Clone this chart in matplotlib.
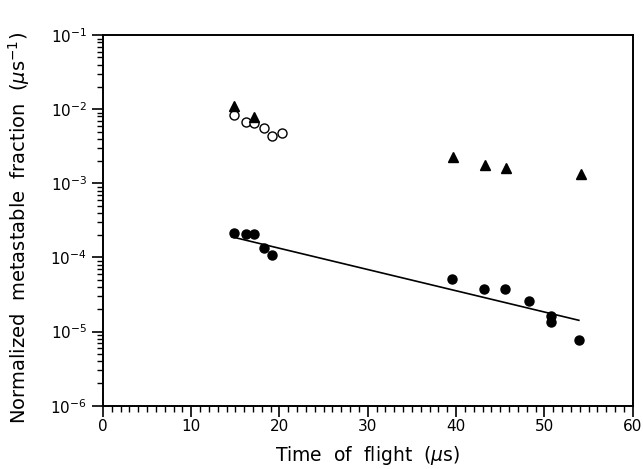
import matplotlib
matplotlib.use("Agg")
import matplotlib.pyplot as plt
from matplotlib.ticker import MultipleLocator, LogLocator

# open circles
open_x = [14.8, 16.2, 17.1, 18.2, 19.1, 20.3]
open_y = [8.4e-3, 6.7e-3, 6.5e-3, 5.6e-3, 4.3e-3, 4.8e-3]

# filled triangles
tri_x = [14.8, 17.1, 39.6, 43.3, 45.6, 54.1]
tri_y = [1.11e-2, 7.8e-3, 2.25e-3, 1.79e-3, 1.63e-3, 1.33e-3]

# filled circles
dot_x = [14.8, 16.2, 17.1, 18.2, 19.1, 39.5, 43.2, 45.5, 48.2, 50.8, 50.8, 53.9]
dot_y = [2.14e-4, 2.1e-4, 2.08e-4, 1.33e-4, 1.07e-4, 5.1e-5, 3.8e-5, 3.7e-5,
         2.6e-5, 1.64e-5, 1.35e-5, 7.8e-6]

# fitted line
fit_x = [14.6, 53.9]
fit_y = [1.9e-4, 1.42e-5]

fig = plt.figure(figsize=(6.43, 4.69), dpi=100)
ax = fig.add_axes([0.160, 0.135, 0.824, 0.790])

ax.plot(fit_x, fit_y, color='black', lw=1.2)
ax.plot(dot_x, dot_y, 'o', color='black', ms=6.5, ls='none')
ax.plot(open_x, open_y, 'o', mfc='white', mec='black', mew=1.0, ms=6.5, ls='none')
ax.plot(tri_x, tri_y, '^', color='black', ms=6.5, ls='none')

ax.set_yscale('log')
ax.set_xlim(0, 60)
ax.set_ylim(1e-6, 1e-1)

ax.xaxis.set_major_locator(MultipleLocator(10))
ax.xaxis.set_minor_locator(MultipleLocator(1))
ax.yaxis.set_major_locator(LogLocator(base=10, numticks=10))
ax.yaxis.set_minor_locator(LogLocator(base=10, subs=range(2, 10), numticks=10))

ax.tick_params(which='major', direction='out', length=8, width=1.2, labelsize=11)
ax.tick_params(axis='x', which='major', pad=1.5)
ax.tick_params(which='minor', direction='out', length=4, width=1.0)
ax.tick_params(axis='y', which='minor', labelleft=False)

for s in ax.spines.values():
    s.set_linewidth(1.4)

ax.set_xlabel('Time  of  flight  ($\\mu$s)', fontsize=13.5)
ax.set_ylabel('Normalized  metastable  fraction  ($\\mu$s$^{-1}$)', fontsize=14)
ax.xaxis.set_label_coords(0.5, -0.104)
ax.yaxis.set_label_coords(-0.134, 0.48)

fig.savefig('out.png', dpi=100)
